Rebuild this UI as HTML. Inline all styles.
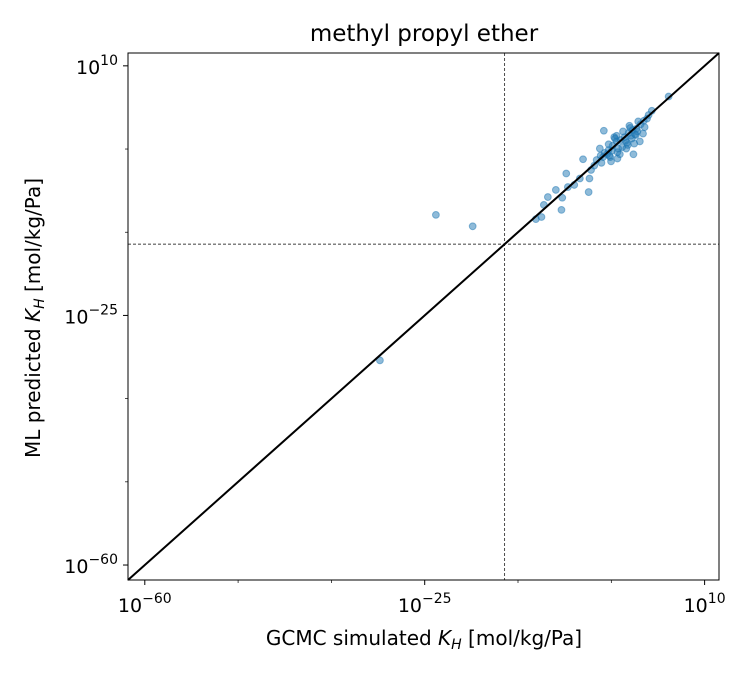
<!DOCTYPE html>
<html><head><meta charset="utf-8"><style>
body{margin:0;background:#fff;}
svg text{font-family:"DejaVu Sans","Liberation Sans",sans-serif;fill:#000;}
</style></head><body>
<svg id="chart" width="750" height="675" xmlns="http://www.w3.org/2000/svg">
<text x="424" y="41" font-size="23" text-anchor="middle">methyl propyl ether</text>
<g id="plot"></g>
<text x="424" y="645" font-size="20" text-anchor="middle">GCMC simulated <tspan font-style="italic">K</tspan><tspan font-style="italic" font-size="14" dy="4">H</tspan><tspan dy="-4"> [mol/kg/Pa]</tspan></text>
<text transform="translate(40,318) rotate(-90)" font-size="20" text-anchor="middle">ML predicted <tspan font-style="italic">K</tspan><tspan font-style="italic" font-size="14" dy="4">H</tspan><tspan dy="-4"> [mol/kg/Pa]</tspan></text>
</svg>
<script>
const xLog=[5.5,3.4,2.4,-2.6,0.6,2.3,1.9,1.1,-1,-3.1,-5.2,-1.9,-0.9,-7.3,-4.4,-5.6,-6.3,-7.1,-4.5,-8.6,-9.6,-7.8,-10.1,-7.9,-10.4,-11.1,-23.6,-19,-30.6,
-2,-1.5,-1,-0.5,0,0.5,1,1.5,-2.5,-2,-1.2,-0.3,0.3,0.8,1.3,-3,-2.2,-1.6,-0.8,0.1,0.9,1.6,-3.5,-2.7,-1.8,-0.6,0.4,1.2,-1.3,-0.2,0.7,2,2.5,1.7,-3.8,-4.2,-2.9,-0.9,0.2,-1.7,1.4,2.8,3];
const yLog=[5.7,3.7,2.3,0.9,1.6,0.5,-0.6,-2.4,0.2,-1.6,-3.1,-2.6,-3,-5.1,-5.8,-5.8,-6.7,-7,-7.7,-7.4,-8.4,-8.5,-9.5,-10.2,-11.2,-11.5,-10.9,-12.5,-31.3,
-1.8,-1.2,-0.6,-0.4,0,0.6,1,1.2,-2.2,-1,-0.2,-1.4,-0.8,0.2,0.4,-2.6,-2.4,-1.9,-1.6,-0.5,-0.2,0.8,-3.2,-2.8,-2.8,-2.4,-1.1,-0.9,0,0.8,1.3,1.8,1.4,2.2,-4,-4.6,-3.6,-2.1,-1.6,-3.4,0.3,2.6,3.1];
const xTicks=[-60,-25,10];
const yTicks=[-60,-25,10];
const minorTicks=[-60+35/3,-60+70/3,-25+35/3,-25+70/3];
const refLine=-15;
const L=128,R=719,T=53,B=580,lo=-62.1,hi=11.8;
const X=v=>L+(v-lo)/(hi-lo)*(R-L);
const Y=v=>B-(v-lo)/(hi-lo)*(B-T);
const g=document.getElementById('plot');
const NS='http://www.w3.org/2000/svg';
function mk(t,a){const e=document.createElementNS(NS,t);for(const k in a)e.setAttribute(k,a[k]);g.appendChild(e);return e;}
let e;
e=mk('line',{x1:X(refLine),x2:X(refLine),y1:T,y2:B,stroke:'#000','stroke-width':0.7,'stroke-dasharray':'3,2'});


e=mk('line',{x1:L,x2:R,y1:Y(refLine),y2:Y(refLine),stroke:'#000','stroke-width':0.7,'stroke-dasharray':'3,2'});


for(let i=0;i<xLog.length;i++){
e=mk('circle',{cx:X(xLog[i]),cy:Y(yLog[i]),r:3.4,fill:'#1f77b4','fill-opacity':0.5,stroke:'#1f77b4','stroke-opacity':0.5,'stroke-width':1});


}
e=mk('line',{x1:X(lo),y1:Y(lo),x2:X(hi),y2:Y(hi),stroke:'#000','stroke-width':2});


e=mk('rect',{x:L,y:T,width:R-L,height:B-T,fill:'none',stroke:'#000','stroke-width':1});


xTicks.forEach(v=>{
e=mk('line',{x1:X(v),x2:X(v),y1:B,y2:B+5,stroke:'#000'});


e=mk('text',{x:X(v),y:B+32,'font-size':19,'text-anchor':'middle'});
e.innerHTML='10<tspan font-size="14" dy="-9">'+(v<0?'−':'')+Math.abs(v)+'</tspan>';


});
yTicks.forEach(v=>{
e=mk('line',{x1:L-5,x2:L,y1:Y(v),y2:Y(v),stroke:'#000'});


e=mk('text',{x:L-10,y:Y(v)+8,'font-size':19,'text-anchor':'end'});
e.innerHTML='10<tspan font-size="14" dy="-9">'+(v<0?'−':'')+Math.abs(v)+'</tspan>';


});
minorTicks.forEach(v=>{
e=mk('line',{x1:X(v),x2:X(v),y1:B,y2:B+3,stroke:'#000','stroke-width':0.7});


e=mk('line',{x1:L-3,x2:L,y1:Y(v),y2:Y(v),stroke:'#000','stroke-width':0.7});


});
</script>
</body></html>
